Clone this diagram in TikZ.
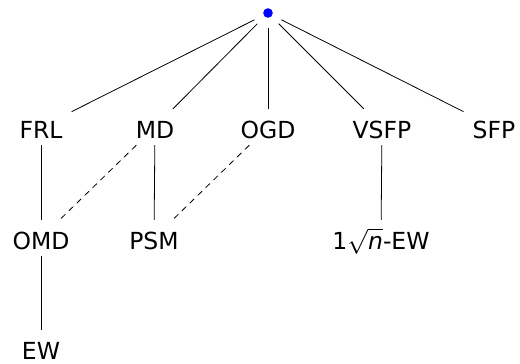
\documentclass[tikz,border=0pt]{standalone}
\usepackage{fontspec}
\setmainfont{DejaVu Sans}
\begin{document}
\begin{tikzpicture}[x=1pt,y=-1pt,
  lbl/.style={anchor=base,inner xsep=9pt,inner ysep=0pt,text height=29pt,text depth=7pt,font=\fontsize{23.5}{26}\selectfont},
  edge/.style={line width=0.8pt},
  dedge/.style={line width=0.8pt,dash pattern=on 6pt off 5pt}]
\useasboundingbox (0,0) rectangle (520,364);
\node[circle,minimum size=30pt,inner sep=0pt] (r) at (268,13) {};
\fill[blue] (r.center) circle (4.8pt);
\node[lbl] (frl) at (41,138) {FRL};
\node[lbl] (md) at (155,138) {MD};
\node[lbl] (ogd) at (268,138) {OGD};
\node[lbl] (vsfp) at (382,138) {VSFP};
\node[lbl] (sfp) at (494,138) {SFP};
\node[lbl] (omd) at (41,249) {OMD};
\node[lbl] (psm) at (154,249) {PSM};
\node[lbl] (ew1) at (381,249) {1$\sqrt{\textit{n}}$-EW};
\node[lbl] (ew) at (41,359) {EW};
\foreach \c in {frl,md,ogd,vsfp,sfp} \draw[edge] (r) -- (\c);
\draw[edge] (frl) -- (omd);
\draw[dedge] (frl) -- (omd);
\draw[dedge] (md) -- (omd);
\draw[edge] (md) -- (psm);
\draw[dedge] (ogd) -- (psm);
\draw[edge] (vsfp) -- (ew1);
\draw[edge] (omd) -- (ew);
\end{tikzpicture}
\end{document}
